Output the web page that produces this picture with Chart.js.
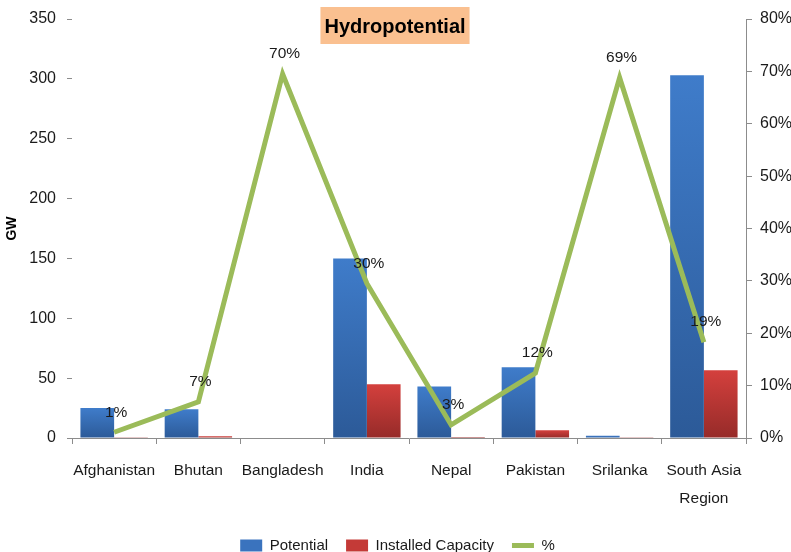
<!DOCTYPE html>
<html>
<head>
<meta charset="utf-8">
<script src="https://cdn.jsdelivr.net/npm/chart.js@4.4.1/dist/chart.umd.min.js"></script>
<style>
html,body{margin:0;padding:0;background:#fff;}
#wrap{width:791px;height:552px;position:relative;}
</style>
</head>
<body>
<div id="wrap"><canvas id="c" width="791" height="552"></canvas></div>
<script>
const categories = ['Afghanistan','Bhutan','Bangladesh','India','Nepal','Pakistan','Srilanka',['South Asia','Region']];
const potential = [25, 24, 0, 150, 43, 59, 1.8, 303];
const installed = [0.3, 1.5, 0, 45, 0.8, 6.5, 0.6, 56.5];
const percent = [1.1, 6.9, 69.5, 29.5, 2.5, 12.4, 68.8, 18.3];
const percentLabels = ['1%','7%','70%','30%','3%','12%','69%','19%'];
const leftTicks = [0,50,100,150,200,250,300,350];
const rightTicks = [0,10,20,30,40,50,60,70,80];

const FONT = "'Liberation Sans','Arial',sans-serif";

function barGradient(top, bottom){
  return function(ctx){
    const chart = ctx.chart;
    if (ctx.type !== 'data' || !chart.scales || !chart.scales.y) return bottom;
    const ys = chart.scales.y;
    const yTop = ys.getPixelForValue(ctx.raw);
    const yBase = ys.getPixelForValue(0);
    if (!isFinite(yTop) || !isFinite(yBase) || Math.abs(yBase - yTop) < 1) return bottom;
    const g = chart.ctx.createLinearGradient(0, yTop, 0, yBase);
    g.addColorStop(0, top);
    g.addColorStop(1, bottom);
    return g;
  };
}

const titlePlugin = {
  id: 'boxTitle',
  afterDraw(chart){
    const ctx = chart.ctx;
    const cx = 395;
    ctx.save();
    ctx.font = "bold 20px " + FONT;
    const text = 'Hydropotential';
    const w = ctx.measureText(text).width;
    ctx.fillStyle = '#FAC090';
    ctx.fillRect(cx - w/2 - 4, 7, w + 8, 37);
    ctx.fillStyle = '#000';
    ctx.textAlign = 'center';
    ctx.textBaseline = 'middle';
    ctx.fillText(text, cx, 27);
    ctx.restore();
  }
};

const pctLabelPlugin = {
  id: 'pctLabels',
  afterDatasetsDraw(chart){
    const meta = chart.getDatasetMeta(2);
    const ctx = chart.ctx;
    ctx.save();
    ctx.font = "15.5px " + FONT;
    ctx.fillStyle = '#1a1a1a';
    ctx.textAlign = 'center';
    ctx.textBaseline = 'middle';
    meta.data.forEach((pt, i) => {
      ctx.fillText(percentLabels[i], pt.x + 2, pt.y - 20);
    });
    ctx.restore();
  }
};

new Chart(document.getElementById('c'), {
  data: {
    labels: categories,
    datasets: [
      {
        type: 'bar',
        label: 'Potential',
        data: potential,
        yAxisID: 'y',
        backgroundColor: barGradient('#3F7CCA', '#2C5A98'),
        borderWidth: 0,
        categoryPercentage: 0.8,
        barPercentage: 1.0,
        order: 2,
        pointStyle: 'rect',
        legendColor: '#3A73BE'
      },
      {
        type: 'bar',
        label: 'Installed Capacity',
        data: installed,
        yAxisID: 'y',
        backgroundColor: barGradient('#D4403D', '#962B29'),
        borderWidth: 0,
        categoryPercentage: 0.8,
        barPercentage: 1.0,
        order: 2,
        pointStyle: 'rect',
        legendColor: '#C43A37'
      },
      {
        type: 'line',
        label: '%',
        data: percent,
        yAxisID: 'y1',
        borderColor: '#9BBB59',
        backgroundColor: '#9BBB59',
        borderWidth: 5,
        pointRadius: 0,
        tension: 0,
        order: 1,
        pointStyle: 'line'
      }
    ]
  },
  options: {
    responsive: false,
    animation: false,
    devicePixelRatio: 1,
    layout: { padding: { top: 14, left: 4, right: 0, bottom: -11 } },
    plugins: {
      legend: {
        position: 'bottom',
        labels: {
          font: { family: FONT, size: 15 },
          color: '#1a1a1a',
          usePointStyle: true,
          pointStyleWidth: 22,
          boxHeight: 12,
          padding: 18,
          generateLabels(chart){
            return chart.data.datasets.map((ds, i) => ({
              text: ds.label,
              fillStyle: ds.legendColor || ds.borderColor,
              strokeStyle: ds.type === 'line' ? ds.borderColor : (ds.legendColor),
              lineWidth: ds.type === 'line' ? 5 : 0,
              pointStyle: ds.pointStyle,
              datasetIndex: i,
              hidden: false,
              fontColor: '#1a1a1a'
            }));
          }
        }
      },
      tooltip: { enabled: false }
    },
    scales: {
      x: {
        grid: { offset: true, drawOnChartArea: false, drawTicks: true, tickLength: 6, color: '#8c8c8c' },
        border: { display: true, color: '#8c8c8c', width: 1 },
        ticks: { font: { family: FONT, size: 15.5, lineHeight: 1.85 }, color: '#1a1a1a', padding: 12, maxRotation: 0, autoSkip: false },
        afterFit(s){ s.height = 82; }
      },
      y: {
        position: 'left',
        min: 0, max: 350,
        afterBuildTicks(s){ s.ticks = leftTicks.map(v => ({ value: v })); },
        grid: { drawOnChartArea: false, drawTicks: true, tickLength: 5, color: '#8c8c8c' },
        border: { display: false },
        ticks: { font: { family: FONT, size: 16, lineHeight: 1.0 }, color: '#1a1a1a', padding: 11 },
        title: { display: true, text: 'GW', font: { family: FONT, size: 14, weight: 'bold' }, color: '#000', padding: 0 },
        afterFit(s){ s.width = 68; }
      },
      y1: {
        position: 'right',
        min: 0, max: 80,
        afterBuildTicks(s){ s.ticks = rightTicks.map(v => ({ value: v })); },
        grid: { drawOnChartArea: false, drawTicks: true, tickLength: 6, color: '#8c8c8c' },
        border: { display: true, color: '#8c8c8c', width: 1 },
        ticks: { font: { family: FONT, size: 16, lineHeight: 1.0 }, color: '#1a1a1a', padding: 8, callback: v => v + '%' },
        afterFit(s){ s.width = 45; }
      }
    }
  },
  plugins: [titlePlugin, pctLabelPlugin]
});
</script>
</body>
</html>
